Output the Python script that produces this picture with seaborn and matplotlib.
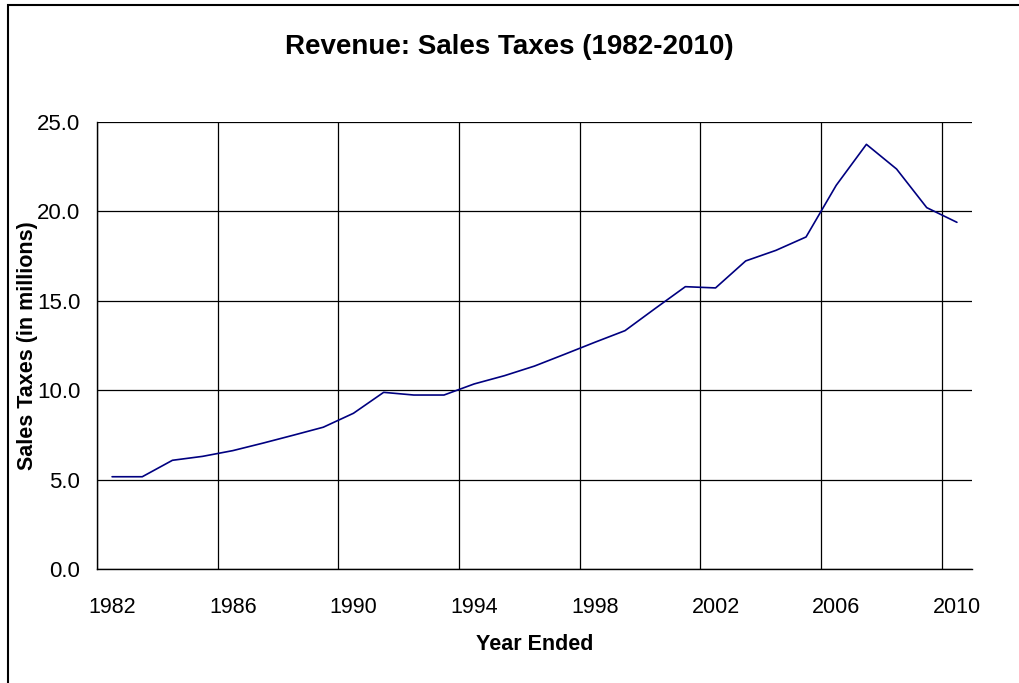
import matplotlib
matplotlib.use("Agg")
import matplotlib.pyplot as plt
import seaborn as sns
import pandas as pd
import numpy as np
from matplotlib.patches import Rectangle

years = list(range(1982, 2011))
sales_taxes = [5.16, 5.16, 6.08, 6.30, 6.62, 7.04, 7.48, 7.93, 8.71, 9.88,
               9.73, 9.73, 10.35, 10.81, 11.35, 12.01, 12.68, 13.33, 14.57, 15.79,
               15.72, 17.23, 17.82, 18.57, 21.46, 23.75, 22.37, 20.21, 19.39]
label_years = [1982, 1986, 1990, 1994, 1998, 2002, 2006, 2010]
y_ticks = [0, 5, 10, 15, 20, 25]

df = pd.DataFrame({"Year": years, "Sales": sales_taxes})

sns.set_theme(style="white")
plt.rcParams['font.family'] = ['Liberation Sans', 'DejaVu Sans']

fig = plt.figure(figsize=(10.19, 6.83), dpi=100)
W, H = 1019, 683
ax = fig.add_axes([97 / W, 1 - 569 / H, (972 - 97) / W, (569 - 122) / H])

sns.lineplot(data=df, x="Year", y="Sales", ax=ax, color="#000080", linewidth=1.2)

ax.set_xlim(years[0] - 0.5, years[-1] + 0.5)
ax.set_ylim(0, 25)

# major ticks at category boundaries (gridlines), labels at category centers
boundaries = [y - 0.5 for y in label_years]
ax.set_xticks(boundaries)
ax.set_xticklabels([])
ax.set_xticks(label_years, minor=True)
ax.set_xticklabels([str(y) for y in label_years], minor=True)
ax.tick_params(axis='x', which='major', direction='out', length=6, width=1, color='black')
ax.tick_params(axis='x', which='minor', length=0, pad=20, labelsize=15.5, labelcolor='black')

ax.set_yticks(y_ticks)
ax.set_yticklabels([f"{v:.1f}" for v in y_ticks])
ax.tick_params(axis='y', which='major', direction='out', length=6, width=1, color='black',
               pad=6, labelsize=16, labelcolor='black')

ax.grid(True, which='major', axis='both', color='black', linewidth=0.9)
ax.set_axisbelow(True)

for side in ['top', 'right']:
    ax.spines[side].set_visible(False)
for side in ['left', 'bottom']:
    ax.spines[side].set_visible(True)
    ax.spines[side].set_color('black')
    ax.spines[side].set_linewidth(1.0)

ax.set_xlabel("Year Ended", fontsize=15.5, fontweight='bold', color='black', va='center')
ax.xaxis.set_label_coords(0.5, (569 - 644) / 447)
ax.set_ylabel("Sales Taxes (in millions)", fontsize=15.5, fontweight='bold', color='black', va='center')
ax.yaxis.set_label_coords((28 - 97) / 875, 0.5)

fig.text(509 / W, 1 - 47 / H, "Revenue: Sales Taxes (1982-2010)", ha='center', va='center',
         fontsize=20, fontweight='bold', color='black')

fig.patches.append(Rectangle((7.5 / W, -0.1), 1.2, 1 - 5 / H + 0.1, transform=fig.transFigure,
                             fill=False, edgecolor='black', linewidth=1.5))

fig.savefig("out.png", dpi=100, facecolor='white')
